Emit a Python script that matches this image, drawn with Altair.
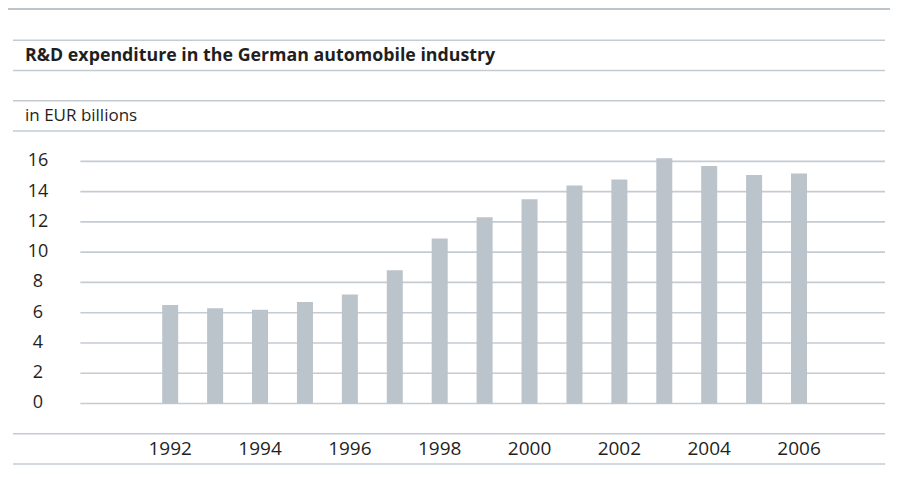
import altair as alt
import pandas as pd

years = [1992, 1993, 1994, 1995, 1996, 1997, 1998, 1999, 2000, 2001, 2002, 2003, 2004, 2005, 2006]
values = [6.5, 6.3, 6.2, 6.7, 7.2, 8.8, 10.9, 12.3, 13.5, 14.4, 14.8, 16.2, 15.7, 15.1, 15.2]
y_ticks = [0, 2, 4, 6, 8, 10, 12, 14, 16]
x_ticks = [1992, 1994, 1996, 1998, 2000, 2002, 2004, 2006]
row_lines = [24, 22, 20, 18, -2, -4]
title_text = ["R&D expenditure in the German automobile industry"]
unit_text = ["in EUR billions"]

FONT = "Open Sans"
TEXT = "#1f1f1f"
LINE = "#c4cbd3"
BAR = "#bbc3cb"

X_MIN, X_MAX = 1988.5, 2007.914

bars_df = pd.DataFrame({"year": years, "value": values})
grid_df = pd.DataFrame({"y": y_ticks, "x0": [1990] * len(y_ticks), "x1": [X_MAX] * len(y_ticks)})
rows_df = pd.DataFrame({"y": row_lines, "x0": [X_MIN] * len(row_lines), "x1": [X_MAX] * len(row_lines)})
ylab_df = pd.DataFrame({"v": y_ticks, "lab": [str(v) for v in y_ticks]})
xlab_df = pd.DataFrame({"yr": x_ticks, "lab": [str(v) for v in x_ticks]})

xscale = alt.Scale(domain=[X_MIN, X_MAX], nice=False, zero=False)
yscale = alt.Scale(domain=[-5.32, 26], nice=False, zero=False)

rows = alt.Chart(rows_df).mark_rule(color=LINE, strokeWidth=1.6).encode(
    x=alt.X("x0:Q", scale=xscale, axis=None),
    x2="x1:Q",
    y=alt.Y("y:Q", scale=yscale, axis=None),
)

grid = alt.Chart(grid_df).mark_rule(color=LINE, strokeWidth=1.6).encode(
    x=alt.X("x0:Q", scale=xscale, axis=None),
    x2="x1:Q",
    y=alt.Y("y:Q", scale=yscale, axis=None),
)

bars = alt.Chart(bars_df).mark_bar(size=16, color=BAR).encode(
    x=alt.X("year:Q", scale=xscale, axis=None),
    y=alt.Y("value:Q", scale=yscale, axis=None),
)

ylabels = alt.Chart(ylab_df).mark_text(
    align="center", baseline="middle", font=FONT, fontSize=18, color=TEXT
).encode(
    x=alt.value(30),
    y=alt.Y("v:Q", scale=yscale, axis=None),
    text="lab:N",
)

xlabels = alt.Chart(xlab_df).mark_text(
    align="center", baseline="middle", font=FONT, fontSize=19, color=TEXT
).encode(
    x=alt.X("yr:Q", scale=xscale, axis=None),
    y=alt.value(439),
    text="lab:N",
)

title = alt.Chart(pd.DataFrame({"t": title_text})).mark_text(
    align="left", baseline="middle", font=FONT, fontSize=17.8, fontWeight="bold", color=TEXT
).encode(x=alt.value(17), y=alt.value(46), text="t:N")

unit = alt.Chart(pd.DataFrame({"t": unit_text})).mark_text(
    align="left", baseline="middle", font=FONT, fontSize=17, color=TEXT
).encode(x=alt.value(17), y=alt.value(106), text="t:N")

chart = alt.layer(rows, grid, bars, ylabels, xlabels, title, unit).properties(
    width=882,
    height=474,
    autosize=alt.AutoSizeParams(type="none"),
    padding={"left": 0, "top": 2, "right": 0, "bottom": 0},
    background="#bcc4cc",
).configure_view(stroke=None, fill="white")

chart.save("out.html", embed_options={"renderer": "svg", "actions": False})
